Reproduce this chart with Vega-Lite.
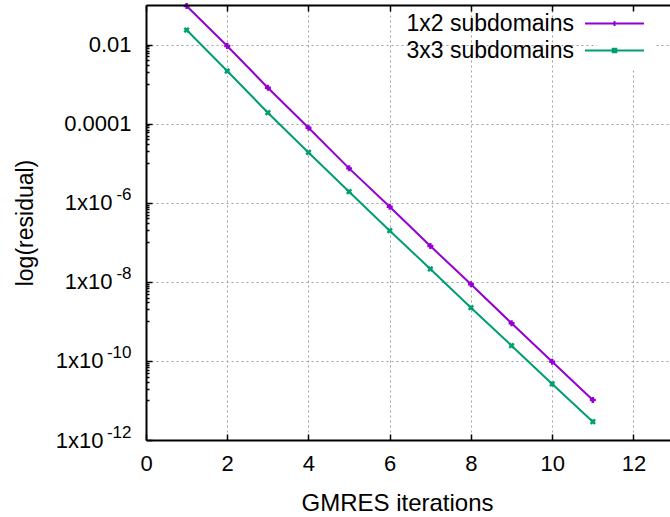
{
  "$schema": "https://vega.github.io/schema/vega-lite/v6.json",
  "width": 524,
  "height": 435,
  "autosize": {"type": "none"},
  "padding": {"left": 146, "top": 5, "right": 0, "bottom": 77},
  "background": "white",
  "config": {
    "view": {"stroke": null},
    "font": "Liberation Sans",
    "axis": {
      "domainColor": "black",
      "domainWidth": 2,
      "tickColor": "black",
      "tickWidth": 1.5,
      "labelColor": "black",
      "titleColor": "black",
      "labelFont": "Liberation Sans",
      "titleFont": "Liberation Sans",
      "titleFontWeight": "normal",
      "gridColor": "#a0a0a0",
      "gridDash": [2, 3],
      "gridWidth": 1,
      "labelFlush": false,
      "labelOverlap": false
    },
    "legend": {"labelFont": "Liberation Sans"}
  },
  "data": {
    "values": [
      {"iter": 1, "residual": 0.094, "series": "1x2 subdomains"},
      {"iter": 2, "residual": 0.0092, "series": "1x2 subdomains"},
      {"iter": 3, "residual": 0.00081, "series": "1x2 subdomains"},
      {"iter": 4, "residual": 7.9e-5, "series": "1x2 subdomains"},
      {"iter": 5, "residual": 7.4e-6, "series": "1x2 subdomains"},
      {"iter": 6, "residual": 7.9e-7, "series": "1x2 subdomains"},
      {"iter": 7, "residual": 8.05e-8, "series": "1x2 subdomains"},
      {"iter": 8, "residual": 8.67e-9, "series": "1x2 subdomains"},
      {"iter": 9, "residual": 8.95e-10, "series": "1x2 subdomains"},
      {"iter": 10, "residual": 9.55e-11, "series": "1x2 subdomains"},
      {"iter": 11, "residual": 1.03e-11, "series": "1x2 subdomains"},
      {"iter": 1, "residual": 0.0233, "series": "3x3 subdomains"},
      {"iter": 2, "residual": 0.00214, "series": "3x3 subdomains"},
      {"iter": 3, "residual": 0.000189, "series": "3x3 subdomains"},
      {"iter": 4, "residual": 1.87e-5, "series": "3x3 subdomains"},
      {"iter": 5, "residual": 1.9e-6, "series": "3x3 subdomains"},
      {"iter": 6, "residual": 1.96e-7, "series": "3x3 subdomains"},
      {"iter": 7, "residual": 2.11e-8, "series": "3x3 subdomains"},
      {"iter": 8, "residual": 2.22e-9, "series": "3x3 subdomains"},
      {"iter": 9, "residual": 2.43e-10, "series": "3x3 subdomains"},
      {"iter": 10, "residual": 2.61e-11, "series": "3x3 subdomains"},
      {"iter": 11, "residual": 2.91e-12, "series": "3x3 subdomains"}
    ]
  },
  "layer": [
    {
      "mark": {"type": "line", "strokeWidth": 2, "clip": true},
      "encoding": {
        "x": {
          "field": "iter", "type": "quantitative",
          "scale": {"domain": [0, 12.9], "nice": false, "zero": false},
          "axis": {
            "orient": "bottom",
            "values": [0, 2, 4, 6, 8, 10, 12],
            "grid": true,
            "tickSize": -6,
            "labelFontSize": 22,
            "labelPadding": 19,
            "title": "GMRES iterations",
            "titleFontSize": 24,
            "titleX": 251,
            "titlePadding": 17
          }
        },
        "y": {
          "field": "residual", "type": "quantitative",
          "scale": {"type": "log", "domain": [1e-12, 0.1], "nice": false},
          "axis": {
            "orient": "left",
            "values": [0.01, 0.0001, 1e-6, 1e-8, 1e-10, 1e-12,
              0.001, 0.002, 0.003, 0.004, 0.005, 0.006, 0.007, 0.008, 0.009,
              1e-5, 2e-5, 3e-5, 4e-5, 5e-5, 6e-5, 7e-5, 8e-5, 9e-5,
              1e-7, 2e-7, 3e-7, 4e-7, 5e-7, 6e-7, 7e-7, 8e-7, 9e-7,
              1e-9, 2e-9, 3e-9, 4e-9, 5e-9, 6e-9, 7e-9, 8e-9, 9e-9,
              1e-11, 2e-11, 3e-11, 4e-11, 5e-11, 6e-11, 7e-11, 8e-11, 9e-11],
            "grid": true,
            "gridOpacity": {"condition": {"test": "round(log(datum.value)/LN10) % 2 == 0 && abs(log(datum.value)/LN10 - round(log(datum.value)/LN10)) < 0.001", "value": 1}, "value": 0},
            "tickSize": {"condition": {"test": "round(log(datum.value)/LN10) % 2 == 0 && abs(log(datum.value)/LN10 - round(log(datum.value)/LN10)) < 0.001", "value": -6}, "value": -3},
            "labelExpr": "(abs(log(datum.value)/LN10 - round(log(datum.value)/LN10)) > 0.001 || round(log(datum.value)/LN10) % 2 != 0) ? '' : round(log(datum.value)/LN10) == -2 ? '0.01' : round(log(datum.value)/LN10) == -4 ? '0.0001' : '1x10'",
            "labelPadding": {"condition": [
              {"test": "datum.value < 5e-10", "value": 49},
              {"test": "datum.value < 5e-5", "value": 40}
            ], "value": 21},
            "labelFontSize": 22,
            "title": "log(residual)",
            "titleFontSize": 23,
            "titlePadding": 18
          }
        },
        "color": {
          "field": "series", "type": "nominal",
          "scale": {"domain": ["1x2 subdomains", "3x3 subdomains"], "range": ["#9400d3", "#009e73"]},
          "legend": {
            "title": null,
            "orient": "none",
            "legendX": 451,
            "legendY": 1,
            "padding": 6,
            "fillColor": "white",
            "labelFontSize": 23,
            "labelLimit": 400,
            "labelColor": "black",
            "labelAlign": "right",
            "labelOffset": -52,
            "symbolSize": 400,
            "symbolStrokeWidth": 2,
            "rowPadding": 3,
            "zindex": 1,
            "encode": {
              "symbols": {
                "update": {
                  "shape": {"signal": "datum.value === '1x2 subdomains' ? 'M-2.95,0H2.95M0,-0.25V0.25' : 'M-2.95,0H2.95M-0.18,-0.18H0.18V0.18H-0.18Z'"}
                }
              }
            }
          }
        }
      }
    },
    {
      "transform": [{"filter": "datum.series === '1x2 subdomains'"}],
      "mark": {"type": "point", "shape": "cross", "filled": true, "size": 36, "color": "#9400d3", "opacity": 1},
      "encoding": {
        "x": {
          "field": "iter", "type": "quantitative",
          "axis": {
            "orient": "top",
            "values": [0, 2, 4, 6, 8, 10, 12],
            "grid": false,
            "labels": false,
            "tickSize": -6,
            "title": null,
            "zindex": 2
          }
        },
        "y": {
          "field": "residual", "type": "quantitative",
          "axis": {
            "orient": "left",
            "values": [1e-6, 1e-8, 1e-10, 1e-12],
            "domain": false,
            "ticks": false,
            "grid": false,
            "title": null,
            "labelExpr": "datum.value > 5e-7 ? '-6' : datum.value > 5e-9 ? '-8' : datum.value > 5e-11 ? '-10' : '-12'",
            "labelFontSize": 17,
            "labelPadding": 15,
            "labelOffset": -8
          }
        }
      }
    },
    {
      "transform": [{"filter": "datum.series === '3x3 subdomains'"}],
      "mark": {"type": "point", "shape": "cross", "angle": 45, "filled": true, "size": 40, "color": "#009e73", "opacity": 1},
      "encoding": {
        "x": {"field": "iter", "type": "quantitative", "axis": null},
        "y": {"field": "residual", "type": "quantitative", "axis": null}
      }
    }
  ],
  "resolve": {"axis": {"x": "independent", "y": "independent"}}
}
